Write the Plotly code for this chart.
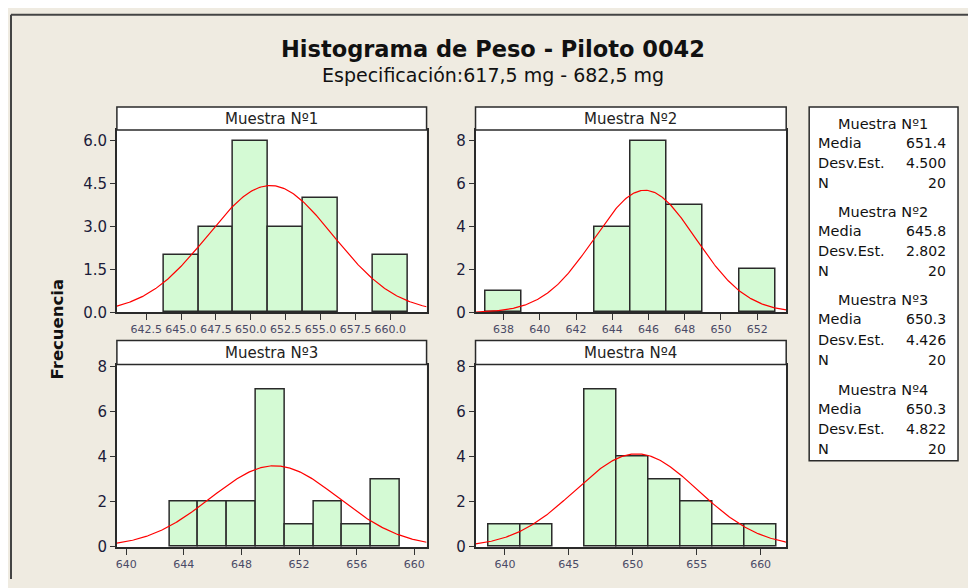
"""
Histograma de peso por muestra (4 paneles) con curva normal ajustada.
"""

import numpy as np
import plotly.graph_objects as go

TITLE = "Histograma de Peso - Piloto 0042"
SUBTITLE = "Especificación:617,5 mg - 682,5 mg"
Y_LABEL = "Frecuencia"

samples = ["Muestra Nº1", "Muestra Nº2", "Muestra Nº3", "Muestra Nº4"]

# bin centres and counts
bins_1 = [645.0, 647.5, 650.0, 652.5, 655.0, 657.5, 660.0]
counts_1 = [2, 3, 6, 3, 4, 0, 2]
bins_2 = [638, 640, 642, 644, 646, 648, 650, 652]
counts_2 = [1, 0, 0, 4, 8, 5, 0, 2]
bins_3 = [644, 646, 648, 650, 652, 654, 656, 658]
counts_3 = [2, 2, 2, 7, 1, 2, 1, 3]
bins_4 = [640.0, 642.5, 645.0, 647.5, 650.0, 652.5, 655.0, 657.5, 660.0]
counts_4 = [1, 1, 0, 7, 4, 3, 2, 1, 1]

means = [651.4, 645.8, 650.3, 650.3]
std_devs = [4.500, 2.802, 4.426, 4.822]
n_obs = [20, 20, 20, 20]

x_ticks_1 = [642.5, 645.0, 647.5, 650.0, 652.5, 655.0, 657.5, 660.0]
x_ticks_2 = [638, 640, 642, 644, 646, 648, 650, 652]
x_ticks_3 = [640, 644, 648, 652, 656, 660]
x_ticks_4 = [640, 645, 650, 655, 660]
y_ticks_1 = [0.0, 1.5, 3.0, 4.5, 6.0]
y_ticks_2 = [0, 2, 4, 6, 8]

x_ranges = [(640.4, 662.6), (636.45, 653.6), (639.35, 660.85), (637.7, 662.0)]
y_ranges = [(0, 6.37), (0, 8.5), (0, 8.1), (0, 8.1)]

# the page body keeps its default 8px margin, so the figure is drawn 8px in
OFF = 8
W, H = 976 - OFF, 588 - OFF
# vertical fudge measured from an earlier render
SY, DY = 0.972, 6.4
BG = "#EFEBE1"
BAR_FILL = "#D4FAD4"
EDGE = "#2a2a2a"
FONT = "DejaVu Sans"

# panel boxes in page pixels: left, right, strip top, plot top, plot bottom
panels = [
	(116, 426, 107, 130, 312),
	(475, 786, 107, 130, 312),
	(116, 426, 340, 364, 546),
	(475, 786, 340, 364, 546),
]


def px(x):
	return (x - OFF) / W


def py(y):
	y = (y - DY) / SY
	return 1 - (y - OFF) / H


def label(text, x, y, size, xanchor="center", color="#111", **kw):
	return dict(
		text=text, xref="paper", yref="paper", x=px(x), y=py(y),
		xanchor=xanchor, yanchor="middle", showarrow=False,
		font=dict(family=FONT, size=size, color=color), **kw,
	)


data = [
	(bins_1, counts_1, x_ticks_1, y_ticks_1, ".1f", ".1f"),
	(bins_2, counts_2, x_ticks_2, y_ticks_2, "d", "d"),
	(bins_3, counts_3, x_ticks_3, y_ticks_2, "d", "d"),
	(bins_4, counts_4, x_ticks_4, y_ticks_2, "d", "d"),
]

fig = go.Figure()
shapes = []
annotations = []

for i, (bins, counts, xt, yt, xfmt, yfmt) in enumerate(data):
	k = "" if i == 0 else str(i + 1)
	bw = bins[1] - bins[0]
	left, right, strip_top, top, bottom = panels[i]

	fig.add_trace(
		go.Bar(
			x=bins,
			y=[c if c > 0 else None for c in counts],
			width=bw,
			marker=dict(color=BAR_FILL, line=dict(color=EDGE, width=1.5)),
			xaxis="x" + k,
			yaxis="y" + k,
			showlegend=False,
			hoverinfo="x+y",
		)
	)

	xs = np.linspace(x_ranges[i][0], x_ranges[i][1], 300)
	pdf = np.exp(-0.5 * ((xs - means[i]) / std_devs[i]) ** 2) / (std_devs[i] * np.sqrt(2 * np.pi))
	fig.add_trace(
		go.Scatter(
			x=xs,
			y=n_obs[i] * bw * pdf,
			mode="lines",
			line=dict(color="#FF0000", width=1.2),
			xaxis="x" + k,
			yaxis="y" + k,
			showlegend=False,
			hoverinfo="skip",
		)
	)

	fig.layout["xaxis" + k] = dict(
		domain=[px(left), px(right)],
		anchor="y" + k,
		range=list(x_ranges[i]),
		tickvals=xt,
		tickformat=xfmt,
		ticks="outside",
		ticklen=6,
		tickcolor="#333",
		tickfont=dict(family=FONT, size=11, color="#4a4a66"),
		showline=True,
		linecolor=EDGE,
		linewidth=1.5,
		mirror=True,
		showgrid=False,
		zeroline=False,
	)
	fig.layout["yaxis" + k] = dict(
		domain=[py(bottom), py(top)],
		anchor="x" + k,
		range=list(y_ranges[i]),
		tickvals=yt,
		tickformat=yfmt,
		ticks="outside",
		ticklen=5,
		tickcolor="#333",
		tickfont=dict(family=FONT, size=15, color="#1c1c3a"),
		showline=True,
		linecolor=EDGE,
		linewidth=1.5,
		mirror=True,
		showgrid=False,
		zeroline=False,
	)

	# strip header
	shapes.append(
		dict(
			type="rect", xref="paper", yref="paper",
			x0=px(left), x1=px(right), y0=py(top), y1=py(strip_top),
			fillcolor="white", line=dict(color=EDGE, width=1.5),
		)
	)
	annotations.append(label(samples[i], (left + right) / 2, (strip_top + top) / 2, 15, color="#222"))

# stats box
shapes.append(
	dict(
		type="rect", xref="paper", yref="paper",
		x0=px(809), x1=px(958), y0=py(460), y1=py(107),
		fillcolor="white", line=dict(color=EDGE, width=1.5),
	)
)
group_y = [124, 212, 300, 389]
row_dy = [19, 39, 59]
for i in range(4):
	g = group_y[i]
	annotations.append(label(samples[i], 883, g, 14.5))
	rows = [
		("Media", f"{means[i]:.1f}"),
		("Desv.Est.", f"{std_devs[i]:.3f}"),
		("N", f"{n_obs[i]}"),
	]
	for (lab, val), dy in zip(rows, row_dy):
		annotations.append(label(lab, 816, g + dy, 14.5, xanchor="left"))
		annotations.append(label(val, 948, g + dy, 14, xanchor="right"))

# titles
annotations.append(label("<b>" + TITLE + "</b>", 492, 49, 22.5))
annotations.append(label(SUBTITLE, 493, 75, 19))
annotations.append(label("<b>" + Y_LABEL + "</b>", 57, 328, 16.5, textangle=-90))

# window frame lines along the top and left edge of the figure
shapes.append(
	dict(type="line", xref="paper", yref="paper", x0=px(10), x1=1, y0=0.9985, y1=0.9985,
		line=dict(color="#444", width=2))
)
shapes.append(
	dict(type="line", xref="paper", yref="paper", x0=px(10), x1=px(10), y0=0, y1=0.9985,
		line=dict(color="#444", width=2))
)

fig.update_layout(
	width=W,
	height=H,
	margin=dict(l=0, r=0, t=0, b=0),
	paper_bgcolor=BG,
	plot_bgcolor="white",
	bargap=0,
	shapes=shapes,
	annotations=annotations,
	showlegend=False,
)

fig.write_html("out.html")
